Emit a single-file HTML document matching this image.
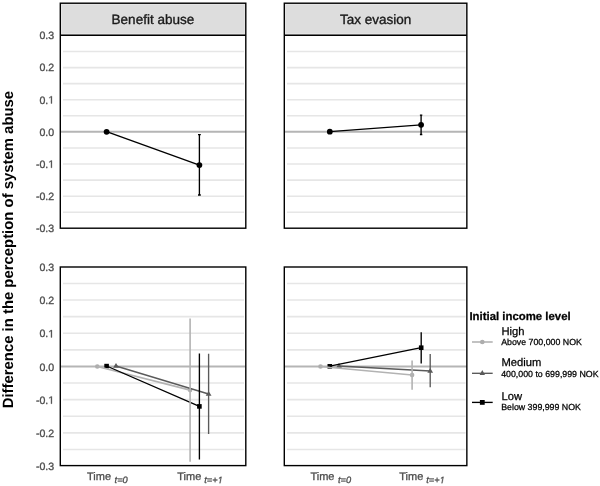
<!DOCTYPE html>
<html><head><meta charset="utf-8">
<style>
html,body{margin:0;padding:0;background:#fff;}
body{width:600px;height:486px;overflow:hidden;}
svg{display:block;will-change:transform;text-rendering:geometricPrecision;font-family:"Liberation Sans", sans-serif;}
</style></head>
<body>
<svg width="600" height="486" viewBox="0 0 600 486">
<rect x="0" y="0" width="600" height="486" fill="#fff"/>
<defs>
<path id="one" vector-effect="non-scaling-stroke" d="M515 0V1237L197 1010V1180L530 1409H696V0Z"/>
<path id="onei" vector-effect="non-scaling-stroke" d="M412.3 0L650 1223L289 1000L324 1180L701 1409H867L593.3 0Z"/>
</defs>


<!-- ===== gridlines ===== -->
<g stroke="#e6e6e6" stroke-width="1.6" fill="none">
  <path d="M63 51.50H244M63 67.58H244M63 83.66H244M63 99.74H244M63 115.82H244M63 147.98H244M63 164.06H244M63 180.14H244M63 196.22H244M63 212.30H244"/>
  <path d="M287 51.50H465.5M287 67.58H465.5M287 83.66H465.5M287 99.74H465.5M287 115.82H465.5M287 147.98H465.5M287 164.06H465.5M287 180.14H465.5M287 196.22H465.5M287 212.30H465.5"/>
  <path d="M63 283.45H244M63 300.05H244M63 316.65H244M63 333.25H244M63 349.85H244M63 383.05H244M63 399.65H244M63 416.25H244M63 432.85H244M63 449.45H244"/>
  <path d="M287 283.45H465.5M287 300.05H465.5M287 316.65H465.5M287 333.25H465.5M287 349.85H465.5M287 383.05H465.5M287 399.65H465.5M287 416.25H465.5M287 432.85H465.5M287 449.45H465.5"/>
</g>
<!-- zero lines -->
<g stroke="#b5b5b5" stroke-width="2.2" fill="none">
  <path d="M61 131.75H245M285 131.75H467M61 366.5H245M285 366.5H467"/>
</g>

<!-- ===== strips ===== -->
<rect x="60.5" y="3" width="185" height="32" fill="#dddddd"/>
<rect x="284.5" y="3" width="182.5" height="32" fill="#dddddd"/>
<g fill="#e4e4e4">
  <rect x="61" y="33" width="183" height="1"/><rect x="61" y="4" width="183" height="1"/>
  <rect x="61" y="4" width="1" height="30"/><rect x="244" y="4" width="1" height="30"/>
  <rect x="285" y="33" width="181" height="1"/><rect x="285" y="4" width="181" height="1"/>
  <rect x="285" y="4" width="1" height="30"/><rect x="465" y="4" width="1" height="30"/>
</g>
<g font-size="13.5" fill="#1a1a1a" stroke="#1a1a1a" stroke-width="0.35" text-anchor="middle">
  <text x="152.9" y="24">Benefit abuse</text>
  <text x="375.6" y="24">Tax evasion</text>
</g>

<!-- ===== data: top-left ===== -->
<g stroke="#000" stroke-width="1.35" fill="none">
  <path d="M106.6 131.7L199.4 165.1"/>
  <path d="M199.4 134.6V195"/>
  <path d="M198 134.6H200.8M198 195H200.8"/>
</g>
<circle cx="106.6" cy="131.8" r="2.9" fill="#000"/>
<circle cx="199.4" cy="165.1" r="2.9" fill="#000"/>

<!-- ===== data: top-right ===== -->
<g stroke="#000" stroke-width="1.35" fill="none">
  <path d="M329.8 131.7L421.1 124.8"/>
  <path d="M421.1 115.1V134.5"/>
  <path d="M419.9 115.1H422.3M419.9 134.5H422.3"/>
</g>
<circle cx="329.8" cy="131.7" r="2.9" fill="#000"/>
<circle cx="421.1" cy="124.8" r="2.9" fill="#000"/>

<!-- ===== data: bottom panels ===== -->
<!-- points first -->
<g fill="#adadad">
  <circle cx="97.3" cy="366.5" r="2.3"/><circle cx="190.1" cy="390.1" r="2.3"/>
  <circle cx="320.5" cy="366.5" r="2.3"/><circle cx="412.1" cy="375" r="2.3"/>
</g>
<g fill="#5a5a5a">
  <path d="M116.0 362.9L118.9 367.7H113.1Z"/><path d="M208.6 390.9L211.5 395.7H205.7Z"/><path d="M339.0 362.9L341.9 367.7H336.1Z"/><path d="M430.2 367.9L433.1 372.7H427.3Z"/>
</g>
<g fill="#000">
  <rect x="104.3" y="363.8" width="4.6" height="4.6"/><rect x="197.1" y="404.1" width="4.6" height="4.6"/>
  <rect x="327.5" y="364" width="4.6" height="4.6"/><rect x="418.9" y="345.4" width="4.6" height="4.6"/>
</g>
<!-- lines: high, medium, low -->
<path d="M97.3 366.5L190.1 390.1M320.5 366.5L412.1 375" stroke="#b3b3b3" stroke-width="1.6" fill="none"/>
<path d="M116 366L208.6 394M339 366L430.2 371" stroke="#5a5a5a" stroke-width="1.35" fill="none"/>
<path d="M106.6 366L199.4 406.4M329.8 366.2L421.2 347.6" stroke="#000" stroke-width="1.35" fill="none"/>
<!-- error bars -->
<path d="M190.1 318.5V461.7M412.1 360.5V389.7" stroke="#b3b3b3" stroke-width="1.6" fill="none"/>
<path d="M208.6 353.8V434M430.2 354V387.3" stroke="#5a5a5a" stroke-width="1.35" fill="none"/>
<path d="M199.4 353.4V459.4M421.2 332.2V363.4" stroke="#000" stroke-width="1.35" fill="none"/>

<!-- ===== panel borders ===== -->
<g stroke="#000" stroke-width="1.4" fill="none">
  <rect x="60.3" y="3.2" width="185.5" height="225"/>
  <path d="M60.3 35.3H245.8"/>
  <rect x="284.3" y="3.2" width="182.55" height="225"/>
  <path d="M284.3 35.3H466.85"/>
  <rect x="60.3" y="267" width="185.5" height="198.6"/>
  <rect x="284.3" y="267" width="182.55" height="198.6"/>
</g>

<!-- ===== y axis labels ===== -->
<g font-size="10.6" fill="#4d4d4d" stroke="#4d4d4d" stroke-width="0.3" text-anchor="end">
  <text x="54.2" y="39.2">0.3</text>
  <text x="54.2" y="71.3">0.2</text>
  <text x="48.305" y="103.5">0.</text><use href="#one" transform="translate(48.305,103.50) scale(0.005176,-0.005176)"/>
  <text x="54.2" y="135.7">0.0</text>
  <text x="48.305" y="167.8">-0.</text><use href="#one" transform="translate(48.305,167.80) scale(0.005176,-0.005176)"/>
  <text x="54.2" y="200">-0.2</text>
  <text x="54.2" y="232.2">-0.3</text>

  <text x="54.2" y="271.1">0.3</text>
  <text x="54.2" y="304.2">0.2</text>
  <text x="48.305" y="337.4">0.</text><use href="#one" transform="translate(48.305,337.4) scale(0.005176,-0.005176)"/>
  <text x="54.2" y="370.5">0.0</text>
  <text x="48.305" y="403.7">-0.</text><use href="#one" transform="translate(48.305,403.7) scale(0.005176,-0.005176)"/>
  <text x="54.2" y="436.85">-0.2</text>
  <text x="54.2" y="470">-0.3</text>
</g>

<!-- ===== x axis labels ===== -->
<g fill="#4d4d4d" stroke="#4d4d4d" stroke-width="0.3">
  <text x="87" y="480.2" font-size="11">Time</text>
  <text x="114.6" y="483.2" font-size="9.25" font-style="italic">t=0</text>
  <text x="177.3" y="480.2" font-size="11">Time</text>
  <text x="204.3" y="483.2" font-size="9.25" font-style="italic">t=+</text><use href="#onei" transform="translate(217.674,483.2) scale(0.004517,-0.004517)"/>
  <text x="310.4" y="480.2" font-size="11">Time</text>
  <text x="338" y="483.2" font-size="9.25" font-style="italic">t=0</text>
  <text x="399.3" y="480.2" font-size="11">Time</text>
  <text x="426.3" y="483.2" font-size="9.25" font-style="italic">t=+</text><use href="#onei" transform="translate(439.674,483.2) scale(0.004517,-0.004517)"/>
</g>

<!-- ===== y axis title ===== -->
<text transform="translate(13.4,249.6) rotate(-90)" text-anchor="middle" font-size="14.88" font-weight="bold" fill="#000">Difference in the perception of system abuse</text>

<!-- ===== legend ===== -->
<text x="469.4" y="319.5" font-size="11.4" font-weight="bold" fill="#000" stroke="#000" stroke-width="0.25">Initial income level</text>
<g fill="#000" stroke="#000" stroke-width="0.25">
  <text x="501.5" y="334.5" font-size="11.2">High</text>
  <text x="501.2" y="344.8" font-size="8.8">Above 700,000 NOK</text>
  <text x="501.5" y="366" font-size="11.2">Medium</text>
  <text x="501.2" y="376.6" font-size="8.8">400,000 to 699,999 NOK</text>
  <text x="501.5" y="399.9" font-size="11.2">Low</text>
  <text x="501.2" y="410.3" font-size="8.8">Below 399,999 NOK</text>
</g>
<path d="M472 342H492.7" stroke="#b3b3b3" stroke-width="1.6"/>
<circle cx="482.3" cy="342" r="2.35" fill="#adadad"/>
<path d="M472 373.3H492.7" stroke="#5a5a5a" stroke-width="1.35"/>
<path d="M482.3 369.9L485.0 375.1H479.6Z" fill="#5a5a5a"/>
<path d="M472 402.4H492.7" stroke="#000" stroke-width="1.35"/>
<rect x="479.9" y="400" width="4.8" height="4.8" fill="#000"/>
</svg>
</body></html>
